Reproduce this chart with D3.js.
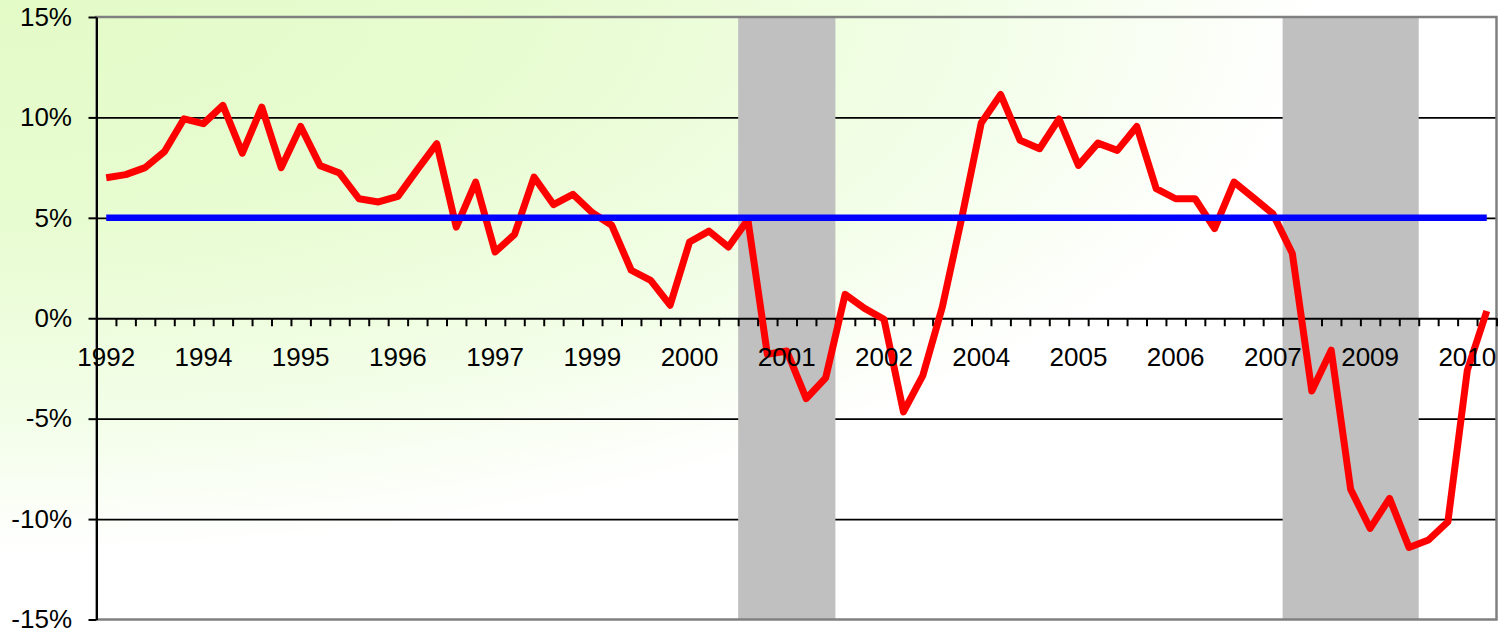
<!DOCTYPE html>
<html lang="en">
<head>
<meta charset="UTF-8" />
<title>Quarterly growth vs 5% target</title>
<style>
  body { margin: 0; background: #fff; }
  svg { display: block; }
</style>
</head>
<body>
<div id="app"></div>
<script src="https://cdn.jsdelivr.net/npm/d3@7"></script>
<script>
// DATA
const startYear = 1992, startQuarter = 4, nQuarters = 72;
const quarters = d3.range(nQuarters).map(i => {
  const q = startQuarter - 1 + i;
  return (startYear + Math.floor(q / 4)) + "Q" + (q % 4 + 1);
});

const growth = [
  7.0, 7.15, 7.5, 8.3, 9.93, 9.69, 10.6, 8.22, 10.51, 7.5,
  9.55, 7.6, 7.23, 5.95, 5.79, 6.07, 7.4, 8.69, 4.54, 6.78,
  3.3, 4.18, 7.03, 5.66, 6.17, 5.25, 4.63, 2.39, 1.89, 0.65,
  3.8, 4.34, 3.55, 4.91, -1.79, -1.63, -4.0, -2.97, 1.19, 0.49,
  -0.05, -4.66, -2.84, 0.56, 5.0, 9.72, 11.14, 8.86, 8.44, 9.93,
  7.61, 8.72, 8.36, 9.55, 6.45, 5.95, 5.95, 4.46, 6.78, 6.0,
  5.2, 3.22, -3.62, -1.59, -8.52, -10.46, -8.97, -11.41, -11.04, -10.13,
  -2.59, 0.36
];

const target = 5;

const xTickLabels = ["1992", "1994", "1995", "1996", "1997", "1999", "2000", "2001",
  "2002", "2004", "2005", "2006", "2007", "2009", "2010"];

const yTicks = [-15, -10, -5, 0, 5, 10, 15];
const gridTicks = [-10, -5, 5, 10];

// recession shading, first and last quarter covered
const recessions = [["2001Q1", "2002Q1"], ["2008Q1", "2009Q3"]];

// SVG
const w = 1499, h = 630;
const plotLeft = 96.5, plotRight = 1496.5, plotTop = 17, plotBottom = 619.5;
const font = "'Liberation Sans', Arial, sans-serif";

const svg = d3.select("#app").append("svg")
  .attr("width", w)
  .attr("height", h);

const grad = svg.append("defs").append("radialGradient")
  .attr("id", "bg")
  .attr("cx", 0).attr("cy", 0).attr("fx", 0).attr("fy", 0).attr("r", 1);
[[0, "#e3fbc7"], [0.35, "#e8fcd1"], [0.65, "#f2fee7"], [0.88, "#ffffff"]].forEach(s => {
  grad.append("stop").attr("offset", s[0]).attr("stop-color", s[1]);
});

svg.append("rect")
  .attr("width", w).attr("height", h)
  .attr("fill", "url(#bg)");

// SCALES
const x = d3.scaleBand().domain(quarters).range([plotLeft, plotRight]).padding(0);
const xEdge = d3.scaleLinear().domain([0, nQuarters]).range([plotLeft, plotRight]);
const y = d3.scaleLinear().domain([-15, 15]).range([plotBottom, plotTop]);
const cx = q => x(q) + x.bandwidth() / 2;

// GRID
const grid = svg.append("g")
  .attr("transform", "translate(" + plotLeft + ",0)")
  .call(d3.axisLeft(y).tickValues(gridTicks).tickSize(-(plotRight - plotLeft)).tickFormat(""));
grid.select(".domain").remove();
grid.selectAll("line").attr("stroke", "#000").attr("stroke-width", 1.8);

// RECESSIONS
svg.selectAll("rect.rec")
  .data(recessions)
  .enter()
  .append("rect")
  .attr("class", "rec")
  .attr("x", d => x(d[0]))
  .attr("width", d => x(d[1]) + x.bandwidth() - x(d[0]))
  .attr("y", plotTop)
  .attr("height", plotBottom - plotTop)
  .attr("fill", "#c0c0c0");

// PLOT BORDER
svg.append("rect")
  .attr("x", plotLeft).attr("y", plotTop)
  .attr("width", plotRight - plotLeft).attr("height", plotBottom - plotTop)
  .attr("fill", "none")
  .attr("stroke", "#808080")
  .attr("stroke-width", 2.5);

// X AXIS (tick marks between quarters)
const xAxis = svg.append("g")
  .attr("transform", "translate(0," + y(0) + ")")
  .call(d3.axisBottom(xEdge).tickValues(d3.range(1, nQuarters + 1)).tickSize(8).tickSizeOuter(0).tickFormat(""));
xAxis.select(".domain").attr("stroke", "#000").attr("stroke-width", 2);
xAxis.selectAll(".tick line").attr("stroke", "#000").attr("stroke-width", 2);

// LINES
const line = d3.line()
  .x((d, i) => cx(quarters[i]))
  .y(d => y(d));

svg.append("path")
  .datum(growth)
  .attr("d", line)
  .attr("fill", "none")
  .attr("stroke", "#ff0000")
  .attr("stroke-width", 7)
  .attr("stroke-linejoin", "round");

const targetLine = d3.line()
  .x(d => cx(d))
  .y(() => y(target));

svg.append("path")
  .datum([quarters[0], quarters[nQuarters - 1]])
  .attr("d", targetLine)
  .attr("fill", "none")
  .attr("stroke", "#0000ff")
  .attr("stroke-width", 6.5);

// Y AXIS
const yAxis = svg.append("g")
  .attr("transform", "translate(" + plotLeft + ",0)")
  .call(d3.axisLeft(y).tickValues(yTicks).tickSize(8).tickSizeOuter(0).tickPadding(16.5)
    .tickFormat(d => d + "%"));
yAxis.attr("font-family", font).attr("font-size", 26);
yAxis.select(".domain").attr("stroke", "#000").attr("stroke-width", 2);
yAxis.selectAll(".tick line").attr("stroke", "#000").attr("stroke-width", 2);
yAxis.selectAll("text").attr("fill", "#000");

// X LABELS
const labelQuarters = quarters.filter((q, i) => i % 5 === 0);
const xLabels = svg.append("g")
  .attr("transform", "translate(0," + y(0) + ")")
  .call(d3.axisBottom(x).tickValues(labelQuarters).tickSize(0).tickPadding(29.5)
    .tickFormat((q, i) => xTickLabels[i]));
xLabels.select(".domain").remove();
xLabels.attr("font-family", font).attr("font-size", 26);
xLabels.selectAll("text").attr("fill", "#000");
</script>
</body>
</html>
